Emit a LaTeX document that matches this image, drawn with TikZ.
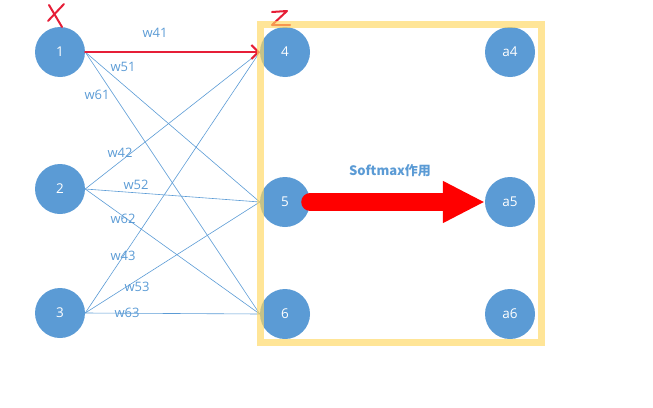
\documentclass[tikz,border=0pt]{standalone}
\usepackage{fontspec}
\setmainfont{Open Sans}
\newfontfamily\cjk{Noto Sans CJK SC}
\usetikzlibrary{arrows.meta}

\definecolor{nodeblue}{RGB}{91,155,213}
\definecolor{markred}{RGB}{230,30,55}
\definecolor{boxyellow}{RGB}{255,215,95}

\tikzset{
	neuron/.style={circle, fill=nodeblue, minimum size=50pt, inner sep=0pt, text=white, font=\fontsize{13.5}{15}\selectfont},
	wline/.style={draw=nodeblue, line width=0.6pt},
	wlabel/.style={text=nodeblue, inner sep=0pt, font=\fontsize{13}{14}\selectfont},
	markpen/.style={draw=markred, line width=2pt, line cap=round, line join=round}
}

\begin{document}
\begin{tikzpicture}[x=1pt, y=-1pt]
			%%%%% START %%%%%
			\useasboundingbox (0, 0) rectangle (653, 407);
			
			\node[neuron] (n1) at (60, 52) {1};
			\node[neuron] (n2) at (60, 189) {2};
			\node[neuron] (n3) at (60, 313) {3};
			
			\node[neuron] (n4) at (285, 52) {4};
			\node[neuron] (n5) at (285, 202) {5};
			\node[neuron] (n6) at (285, 314) {6};
			
			\node[neuron] (a4) at (510, 52) {a4};
			\node[neuron] (a5) at (510, 202) {a5};
			\node[neuron] (a6) at (510, 314) {a6};
			
			\foreach \i in {1,2,3}
				\foreach \j in {4,5,6}
					\draw[wline] (n\i.east) -- (n\j.west);
			
			\node[wlabel] (w41) at (155, 33) {w41};
			\node[wlabel] (w51) at (123, 67) {w51};
			\node[wlabel] (w61) at (97, 95) {w61};
			\node[wlabel] (w42) at (120, 153) {w42};
			\node[wlabel] (w52) at (136, 185) {w52};
			\node[wlabel] (w62) at (123, 219) {w62};
			\node[wlabel] (w43) at (123, 256) {w43};
			\node[wlabel] (w53) at (137, 287) {w53};
			\node[wlabel] (w63) at (127, 313) {w63};
			
			\draw[markpen, -{Straight Barb[length=7pt, width=14pt]}] (n1.east) -- (n4.west);
			
			\draw[markpen] (49, 5) -- (62, 27);
			\draw[markpen] (64, 4) -- (48, 21);
			\draw[markpen] (272, 12) -- (287, 11) -- (272, 25) -- (290, 25);
			
			\node[text=nodeblue, font=\cjk\bfseries\fontsize{13}{15}\selectfont] (sm) at (390, 171) {Softmax作用};
			\draw[red, line width=18pt, line cap=round, -{Triangle[length=42pt, width=39pt]}] (n5) -- (a5);
			
			\draw[boxyellow, line width=7pt, opacity=0.65] (260, 24) rectangle (541, 342);
			%%%%% END %%%%%
\end{tikzpicture}
\end{document}
